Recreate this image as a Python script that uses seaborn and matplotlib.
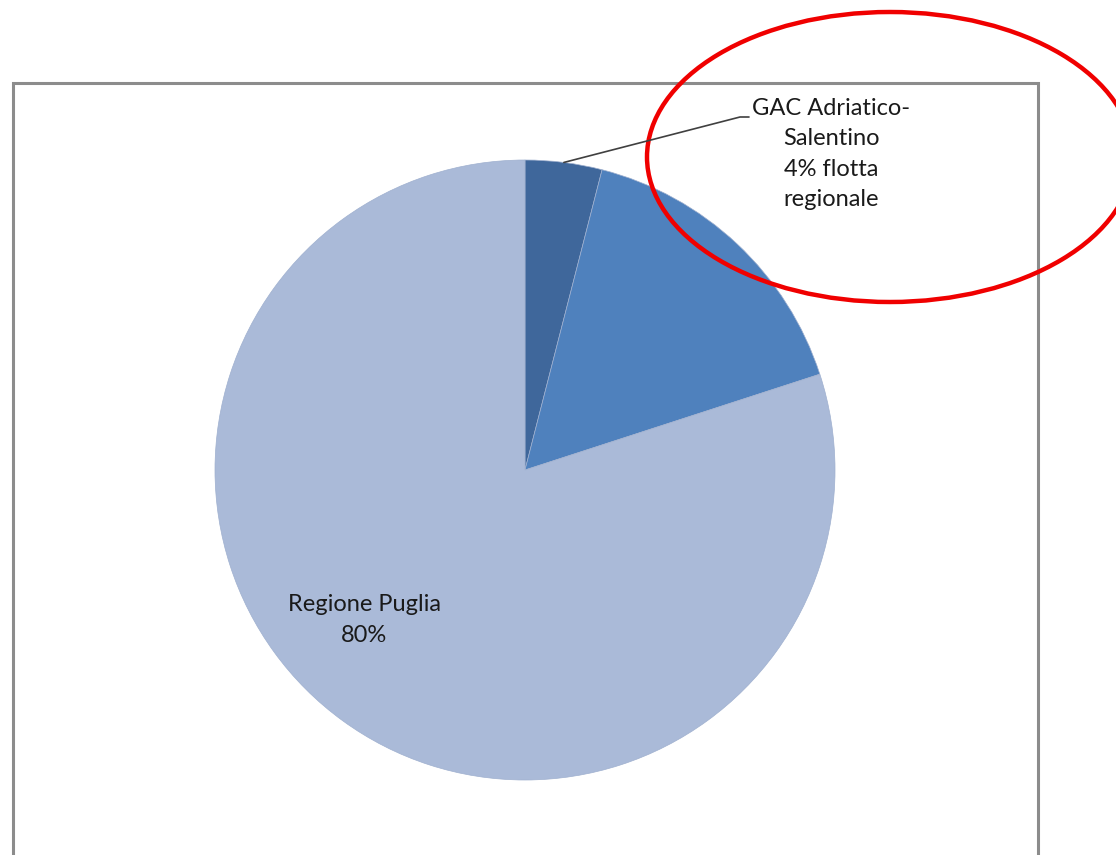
import numpy as np
import matplotlib
matplotlib.use('Agg')
import matplotlib.pyplot as plt
import seaborn as sns
from matplotlib.patches import Rectangle, Ellipse

# data
labels = ['GAC Adriatico-\nSalentino\n4% flotta\nregionale', '', 'Regione Puglia\n80%']
shares = [4, 16, 80]
colors = ['#3F679B', '#4F81BD', '#AABAD8']

sns.set_theme(style='white')
plt.rcParams['font.family'] = ['Lato', 'DejaVu Sans']

W, H = 1116, 855
fig = plt.figure(figsize=(W / 100, H / 100), dpi=100)
ax = fig.add_axes([0, 0, 1, 1])
ax.set_xlim(0, W)
ax.set_ylim(0, H)
ax.set_aspect('equal')
ax.axis('off')

# chart frame
ax.add_patch(Rectangle((13, -10), 1025, H - 83 + 10, fill=False,
                       edgecolor='#8C8C8C', lw=2.2, zorder=1))

cx, cy, r = 525, H - 470, 310
wedges, _ = ax.pie(shares, colors=colors, startangle=90, counterclock=False,
                   center=(cx, cy), radius=r, frame=True,
                   wedgeprops=dict(linewidth=0.5, edgecolor='#9FB0CF'))
ax.set_xlim(0, W)
ax.set_ylim(0, H)
ax.axis('off')

# big slice label
ax.text(364, H - 620, labels[2], ha='center', va='center', fontsize=17,
        color='#1A1A1A', linespacing=1.55)

# small slice label with leader line
w0 = wedges[0]
mid = np.deg2rad((w0.theta1 + w0.theta2) / 2)
px, py = cx + r * np.cos(mid), cy + r * np.sin(mid)
ax.plot([px, 740, 749], [py, H - 117, H - 117], color='#404040', lw=1.2)
ax.text(831, H - 154, labels[0], ha='center', va='center', fontsize=17,
        color='#1A1A1A', linespacing=1.55)

# red highlight ellipse
ax.add_patch(Ellipse((890, H - 157), 486, 290, fill=False,
                     edgecolor='#F00000', lw=3.2, clip_on=False))

fig.savefig('out.png', dpi=100)
plt.close()
